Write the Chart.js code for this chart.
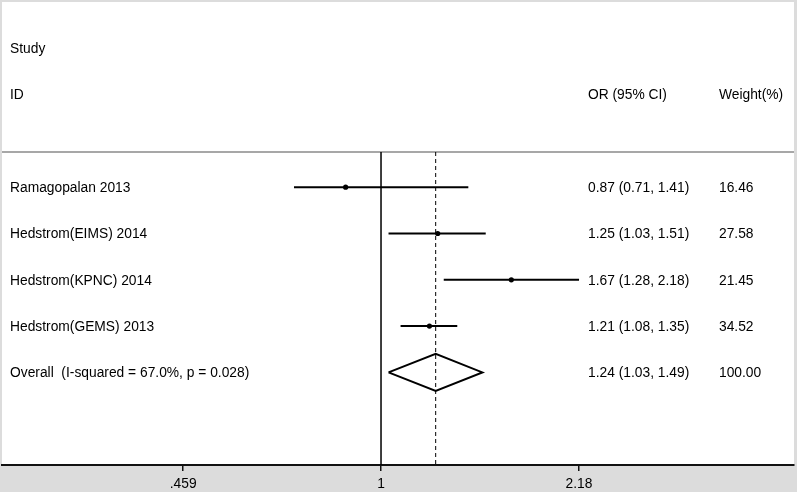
<!DOCTYPE html>
<html>
<head>
<meta charset="utf-8">
<script src="https://cdn.jsdelivr.net/npm/chart.js@4.4.0/dist/chart.umd.min.js"></script>
<style>
  html, body { margin: 0; padding: 0; background: #dcdcdc; }
  #wrap { width: 797px; height: 492px; }
</style>
</head>
<body>
<div id="wrap"><canvas id="c" width="797" height="492"></canvas></div>
<script>
// ---- data ----
const studyLabels = ['Ramagopalan 2013', 'Hedstrom(EIMS) 2014', 'Hedstrom(KPNC) 2014', 'Hedstrom(GEMS) 2013'];
const orValues    = [0.87, 1.25, 1.67, 1.21];
const ciLower     = [0.71, 1.03, 1.28, 1.08];
const ciUpper     = [1.41, 1.51, 2.18, 1.35];
const weights     = [16.46, 27.58, 21.45, 34.52];
const overallLabel  = 'Overall  (I-squared = 67.0%, p = 0.028)';
const overallOR     = 1.24;
const overallLower  = 1.03;
const overallUpper  = 1.49;
const overallWeight = 100.00;
const headerStudy = ['Study', 'ID'];
const headerOR = 'OR (95% CI)';
const headerWeight = 'Weight(%)';
const tickValues = [0.459, 1, 2.18];
const tickLabels = ['.459', '1', '2.18'];
const nullValue = 1;

// ---- layout constants ----
const X_MIN = 0.2250, X_MAX = 5.080;
const Y_MIN = 0, Y_MAX = 10;
const FIRST_ROW = 4;          // row index of first study
const SEP_ROW = 3.24;         // header separator
const DIAMOND_HALF = 0.4;     // half height of diamond in row units
const FONT = '13.8px "Liberation Sans", Arial, sans-serif';
const TEXT_DY = 1;

const studyRows = studyLabels.map((_, i) => FIRST_ROW + i);
const overallRow = FIRST_ROW + studyLabels.length;

const datasets = [];
// CI lines
studyLabels.forEach((lab, i) => {
  datasets.push({
    type: 'line', label: lab + ' CI',
    data: [{x: ciLower[i], y: studyRows[i]}, {x: ciUpper[i], y: studyRows[i]}],
    borderColor: '#000', borderWidth: 2, pointRadius: 0, fill: false, showLine: true
  });
});
// point estimates
datasets.push({
  type: 'scatter', label: 'OR',
  data: orValues.map((v, i) => ({x: v, y: studyRows[i]})),
  backgroundColor: '#000', borderColor: '#000', pointRadius: 2.6, pointBorderWidth: 0
});
// diamond
datasets.push({
  type: 'line', label: 'Overall',
  data: [
    {x: overallLower, y: overallRow},
    {x: overallOR, y: overallRow - DIAMOND_HALF},
    {x: overallUpper, y: overallRow},
    {x: overallOR, y: overallRow + DIAMOND_HALF},
    {x: overallLower, y: overallRow}
  ],
  borderColor: '#000', borderWidth: 2, pointRadius: 0, fill: false, showLine: true, tension: 0
});
// null line
datasets.push({
  type: 'line', label: 'null',
  data: [{x: nullValue, y: SEP_ROW}, {x: nullValue, y: Y_MAX}],
  borderColor: '#000', borderWidth: 1.5, pointRadius: 0, fill: false, showLine: true
});
// overall dashed line
datasets.push({
  type: 'line', label: 'overall line',
  data: [{x: overallOR, y: SEP_ROW}, {x: overallOR, y: Y_MAX}],
  borderColor: '#000', borderWidth: 1, borderDash: [4, 3], pointRadius: 0, fill: false, showLine: true
});

const panelPlugin = {
  id: 'panel',
  beforeDraw(chart) {
    const {ctx, chartArea: a} = chart;
    ctx.save();
    ctx.fillStyle = '#dcdcdc';
    ctx.fillRect(0, 0, chart.width, chart.height);
    ctx.fillStyle = '#ffffff';
    ctx.fillRect(a.left, a.top, a.right - a.left, a.bottom - a.top);
    // header separator
    const ys = chart.scales.y.getPixelForValue(SEP_ROW);
    ctx.strokeStyle = '#8a8a8a';
    ctx.lineWidth = 1.5;
    ctx.beginPath();
    ctx.moveTo(a.left, ys);
    ctx.lineTo(a.right, ys);
    ctx.stroke();
    ctx.restore();
  },
  afterDraw(chart) {
    const {ctx} = chart;
    const y = chart.scales.y;
    const py = v => y.getPixelForValue(v) + TEXT_DY;
    ctx.save();
    ctx.font = FONT;
    ctx.fillStyle = '#000';
    ctx.textBaseline = 'middle';
    ctx.textAlign = 'left';
    const xLab = 10, xOR = 588, xW = 719;
    ctx.fillText(headerStudy[0], xLab, py(1));
    ctx.fillText(headerStudy[1], xLab, py(2));
    ctx.fillText(headerOR, xOR, py(2));
    ctx.fillText(headerWeight, xW, py(2));
    studyLabels.forEach((lab, i) => {
      const yy = py(studyRows[i]);
      ctx.fillText(lab, xLab, yy);
      ctx.fillText(orValues[i].toFixed(2) + ' (' + ciLower[i].toFixed(2) + ', ' + ciUpper[i].toFixed(2) + ')', xOR, yy);
      ctx.fillText(weights[i].toFixed(2), xW, yy);
    });
    const po = py(overallRow);
    ctx.fillText(overallLabel, xLab, po);
    ctx.fillText(overallOR.toFixed(2) + ' (' + overallLower.toFixed(2) + ', ' + overallUpper.toFixed(2) + ')', xOR, po);
    ctx.fillText(overallWeight.toFixed(2), xW, po);
    ctx.restore();
  }
};

new Chart(document.getElementById('c'), {
  type: 'scatter',
  data: { datasets },
  options: {
    responsive: false,
    animation: false,
    devicePixelRatio: 1,
    layout: { autoPadding: false, padding: { left: 2, right: 3, top: 2, bottom: 0 } },
    plugins: { legend: { display: false }, tooltip: { enabled: false } },
    scales: {
      x: {
        type: 'logarithmic',
        min: X_MIN, max: X_MAX,
        afterBuildTicks(scale) { scale.ticks = tickValues.map(v => ({ value: v })); },
        afterFit(scale) { scale.height = 27; },
        ticks: {
          autoSkip: false, maxRotation: 0, minRotation: 0, padding: 5,
          color: '#000', font: { family: '"Liberation Sans", Arial, sans-serif', size: 13.8 },
          callback(value, index) { return tickLabels[index]; }
        },
        grid: { display: true, drawOnChartArea: false, drawTicks: true, tickLength: 6, color: '#111', lineWidth: 1.5 },
        border: { display: true, color: '#111', width: 2 }
      },
      y: {
        type: 'linear', min: Y_MIN, max: Y_MAX, reverse: true, display: false
      }
    }
  },
  plugins: [panelPlugin]
});
</script>
</body>
</html>
